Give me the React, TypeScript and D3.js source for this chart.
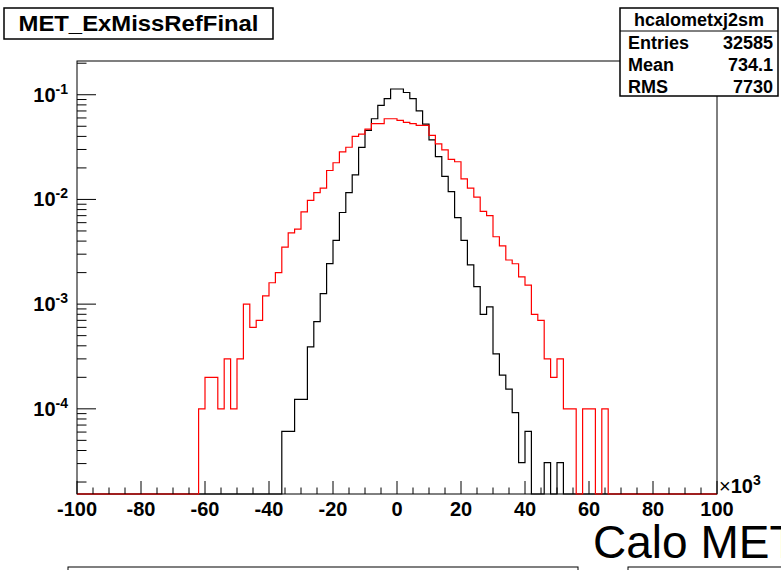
import React from "react";
import * as d3 from "d3";

// Histogram: 100 bins from -100 to 100 (x10^3), width 2
const binLow = -100;
const binHigh = 100;
const binCount = 100;

// black histogram (hcalometxj2sm), normalized contents per bin
const blackValues: number[] = [
  0, 0, 0, 0, 0, 0, 0, 0, 0, 0,
  0, 0, 0, 0, 0, 0, 0, 0, 0, 0,
  0, 0, 0, 0, 0, 0, 0, 0, 0, 0,
  0, 0, 6.1e-5, 6.1e-5, 1.23e-4, 1.23e-4, 3.9e-4, 6.8e-4, 1.26e-3, 2.44e-3,
  4.07e-3, 7.5e-3, 1.16e-2, 1.72e-2, 3.14e-2, 4.56e-2, 5.9e-2, 7.9e-2, 9.2e-2, 0.1135,
  0.1135, 0.105, 9.2e-2, 7.0e-2, 5.25e-2, 3.7e-2, 2.56e-2, 1.66e-2, 1.19e-2, 6.7e-3,
  4.07e-3, 2.37e-3, 1.47e-3, 8.0e-4, 9.4e-4, 3.35e-4, 2.1e-4, 1.54e-4, 9.2e-5, 3.07e-5,
  6.1e-5, 0, 0, 3.07e-5, 0, 3.07e-5, 0, 0, 0, 0,
  0, 0, 0, 0, 0, 0, 0, 0, 0, 0,
  0, 0, 0, 0, 0, 0, 0, 0, 0, 0,
];

// red histogram, normalized contents per bin
const redValues: number[] = [
  0, 0, 0, 0, 0, 0, 0, 0, 0, 0,
  0, 0, 0, 0, 0, 0, 0, 0, 0, 1e-4,
  2e-4, 2e-4, 1e-4, 3e-4, 1e-4, 3e-4, 1e-3, 6e-4, 7e-4, 1.2e-3,
  1.6e-3, 2.0e-3, 3.5e-3, 4.8e-3, 5.2e-3, 7.6e-3, 9.8e-3, 1.16e-2, 1.28e-2, 1.89e-2,
  2.24e-2, 2.84e-2, 3.15e-2, 4.0e-2, 4.2e-2, 4.7e-2, 5.3e-2, 5.3e-2, 5.9e-2, 5.9e-2,
  5.7e-2, 5.45e-2, 5.3e-2, 5.1e-2, 5.1e-2, 4.1e-2, 3.4e-2, 2.98e-2, 2.41e-2, 2.29e-2,
  1.57e-2, 1.28e-2, 1.05e-2, 7.7e-3, 7.0e-3, 4.4e-3, 3.6e-3, 2.64e-3, 2.43e-3, 1.82e-3,
  1.52e-3, 8.0e-4, 7.0e-4, 3e-4, 2e-4, 3e-4, 1e-4, 1e-4, 0, 1e-4,
  1e-4, 0, 1e-4, 0, 0, 0, 0, 0, 0, 0,
  0, 0, 0, 0, 0, 0, 0, 0, 0, 0,
];

const xTickLabels = [-100, -80, -60, -40, -20, 0, 20, 40, 60, 80, 100];
const yDecades = [-4, -3, -2, -1];

const titleText = "MET_ExMissRefFinal";
const statsName = "hcalometxj2sm";
const statsRows: [string, string][] = [
  ["Entries", "32585"],
  ["Mean", "734.1"],
  ["RMS", "7730"],
];
const bigLabel = "Calo MET";

const FONT = "'Liberation Sans', Arial, Helvetica, sans-serif";

export default function App() {
  const W = 781;
  const H = 570;
  const fx0 = 77, fx1 = 717, fy0 = 61, fy1 = 494;
  const yMin = 1.5367e-5;
  const yMax = 0.21;

  const x = d3.scaleLinear().domain([binLow, binHigh]).range([fx0, fx1]);
  const y = d3.scaleLog().domain([yMin, yMax]).range([fy1, fy0]);
  const binW = (binHigh - binLow) / binCount;

  const yv = (v: number) => (v > yMin ? y(v) : fy1);

  const histPath = (vals: number[]) => {
    const pts: [number, number][] = [];
    vals.forEach((v, i) => {
      const xl = x(binLow + i * binW);
      const xr = x(binLow + (i + 1) * binW);
      pts.push([xl, yv(v)]);
      pts.push([xr, yv(v)]);
    });
    return d3.line()(pts) || "";
  };

  // x ticks
  const xMajor = d3.range(binLow, binHigh + 0.001, 20);
  const xMinor = d3.range(binLow, binHigh + 0.001, 5).filter((t) => !xMajor.includes(t));
  const xMajLen = 13, xMinLen = 6.5;
  const yMajLen = 19, yMinLen = 9.5;

  const yMinorTicks: number[] = [];
  for (let e = -6; e <= 0; e++) {
    for (let k = 2; k <= 9; k++) {
      const v = k * Math.pow(10, e);
      if (v >= yMin && v <= yMax) yMinorTicks.push(v);
    }
  }

  const statsX = 620, statsY = 8, statsW = 158, statsH = 88;

  return (
    <svg
      width={W}
      height={H}
      style={{ position: "absolute", left: 0, top: 0, background: "#fff" }}
      fontFamily={FONT}
    >
      <rect x={0} y={0} width={W} height={H} fill="#fff" />
      <defs>
        <clipPath id="frameClip">
          <rect x={fx0} y={fy0} width={fx1 - fx0} height={fy1 - fy0 + 1} />
        </clipPath>
      </defs>

      {/* frame */}
      <rect x={fx0} y={fy0} width={fx1 - fx0} height={fy1 - fy0} fill="none" stroke="#000" strokeWidth={1} />

      {/* histograms */}
      <g clipPath="url(#frameClip)">
        <path d={histPath(blackValues)} fill="none" stroke="#000" strokeWidth={1.2} />
        <path d={histPath(redValues)} fill="none" stroke="#ff0000" strokeWidth={1.2} />
      </g>

      {/* x axis ticks */}
      {xMajor.map((t) => (
        <line key={"xM" + t} x1={x(t)} x2={x(t)} y1={fy1} y2={fy1 - xMajLen} stroke="#000" strokeWidth={1} />
      ))}
      {xMinor.map((t) => (
        <line key={"xm" + t} x1={x(t)} x2={x(t)} y1={fy1} y2={fy1 - xMinLen} stroke="#000" strokeWidth={1} />
      ))}
      {xTickLabels.map((t) => (
        <text key={"xl" + t} x={x(t)} y={516} textAnchor="middle" fontSize={20} fontWeight="bold">
          {t}
        </text>
      ))}
      <text x={719} y={493} fontSize={20} fontWeight="bold">
        <tspan fontWeight="normal">×</tspan>10<tspan fontSize={14} dy={-8}>3</tspan>
      </text>

      {/* y axis ticks */}
      {yDecades.map((e) => {
        const yy = y(Math.pow(10, e));
        return (
          <g key={"yd" + e}>
            <line x1={fx0} x2={fx0 + yMajLen} y1={yy} y2={yy} stroke="#000" strokeWidth={1} />
            <text x={68} y={yy + 7} textAnchor="end" fontSize={20} fontWeight="bold">
              10<tspan fontSize={14} dy={-8}>{String(e)}</tspan>
            </text>
          </g>
        );
      })}
      {yMinorTicks.map((v, i) => (
        <line key={"ym" + i} x1={fx0} x2={fx0 + yMinLen} y1={y(v)} y2={y(v)} stroke="#000" strokeWidth={1} />
      ))}

      {/* title box */}
      <rect x={4} y={8} width={269} height={31} fill="#fff" stroke="#000" strokeWidth={1.5} />
      <text x={138.5} y={31} textAnchor="middle" fontSize={22} fontWeight="bold" textLength={240} lengthAdjust="spacingAndGlyphs">
        {titleText}
      </text>

      {/* stats box */}
      <rect x={statsX} y={statsY} width={statsW} height={statsH} fill="#fff" stroke="#000" strokeWidth={1.5} />
      <line x1={statsX} x2={statsX + statsW} y1={31} y2={31} stroke="#000" strokeWidth={1} />
      <text x={statsX + statsW / 2} y={26} textAnchor="middle" fontSize={18} fontWeight="bold">
        {statsName}
      </text>
      {statsRows.map(([k, v], i) => (
        <g key={k}>
          <text x={statsX + 8} y={49 + i * 22} fontSize={18} fontWeight="bold">{k}</text>
          <text x={statsX + statsW - 5} y={49 + i * 22} textAnchor="end" fontSize={18} fontWeight="bold">{v}</text>
        </g>
      ))}

      {/* big label */}
      <text x={593} y={558} fontSize={46}>{bigLabel}</text>

      {/* bottom (cut-off) boxes */}
      <rect x={68} y={567} width={510} height={20} fill="#fff" stroke="#000" strokeWidth={1} />
      <rect x={628} y={567} width={160} height={20} fill="#fff" stroke="#000" strokeWidth={1} />
      <text x={640} y={583} fontSize={18} fontWeight="bold">{statsName}</text>
    </svg>
  );
}
